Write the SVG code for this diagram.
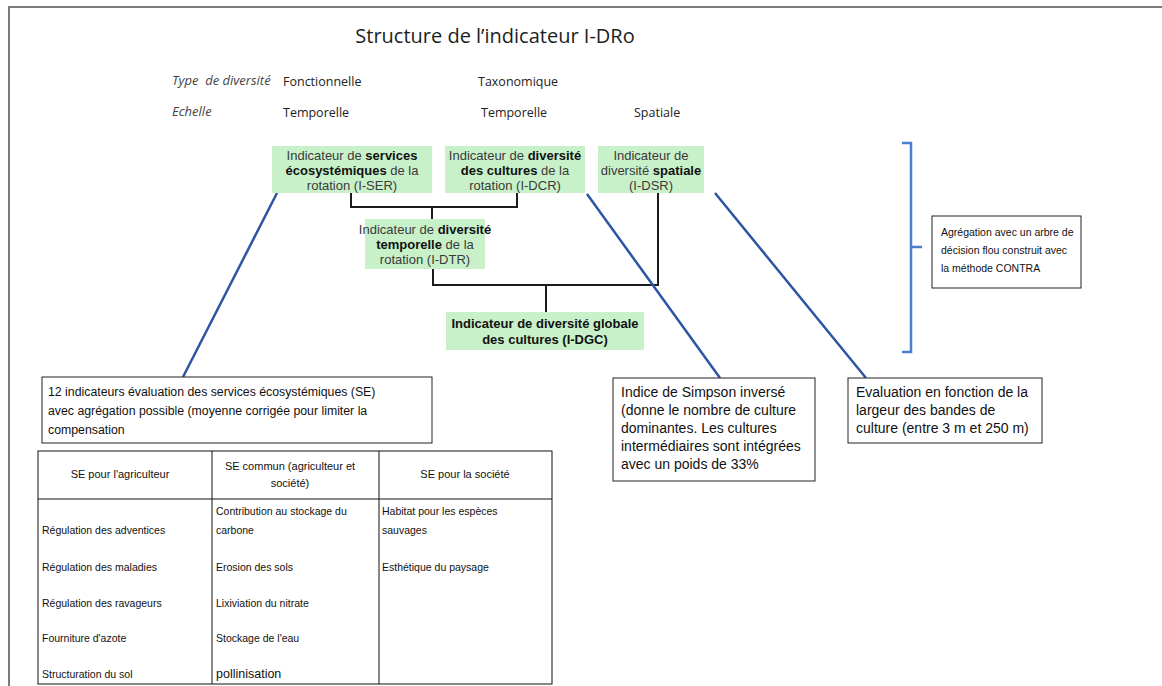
<svg xmlns="http://www.w3.org/2000/svg" width="1162" height="686" viewBox="0 0 1162 686">
<style>
.frame{fill:none;stroke:#7a7a7a;stroke-width:2}
.title{font-family:"Open Sans","Liberation Sans",sans-serif;font-size:20px;fill:#1e1e1e;text-anchor:middle}
.lab{font-family:"Open Sans","Liberation Sans",sans-serif;font-size:13px;font-style:italic;fill:#444}
.val{font-family:"Open Sans","Liberation Sans",sans-serif;font-size:12.5px;fill:#222}
.gbox{fill:#c9f1c9;stroke:none}
.gt{font-family:"Liberation Sans",Arial,sans-serif;font-size:13px;fill:#3a3a3a;text-anchor:middle}
.b{font-weight:bold;fill:#111}
.tree{fill:none;stroke:#1c1c1c;stroke-width:2}
.blue{fill:none;stroke:#2d55a3;stroke-width:2.5}
.brace{fill:none;stroke:#4a7ed0;stroke-width:2.5}
.box{fill:#fff;stroke:#222;stroke-width:1}
.bt{font-family:"Liberation Sans",Arial,sans-serif;font-size:12.3px;fill:#111}
.bt2{font-family:"Liberation Sans",Arial,sans-serif;font-size:14px;fill:#111}
.bt3{font-family:"Liberation Sans",Arial,sans-serif;font-size:10.5px;fill:#111}
.tt{font-family:"Liberation Sans",Arial,sans-serif;font-size:10.5px;fill:#111}
.ttc{font-family:"Liberation Sans",Arial,sans-serif;font-size:11px;fill:#111;text-anchor:middle}
.tl{fill:none;stroke:#111;stroke-width:1}
</style>
<path class="frame" d="M9,686 V7 H1162"/>
<text class="title" x="495" y="43">Structure de l’indicateur I-DRo</text>
<g id="legend">
<text class="lab" x="172" y="85" xml:space="preserve">Type  de diversité</text>
<text class="lab" x="172" y="116">Echelle</text>
<text class="val" x="283" y="86">Fonctionnelle</text>
<text class="val" x="478" y="86">Taxonomique</text>
<text class="val" x="283" y="117">Temporelle</text>
<text class="val" x="481" y="117">Temporelle</text>
<text class="val" x="634" y="117">Spatiale</text>
</g>
<g id="connectors">
<path class="tree" d="M351,193 V207 H517 V193 M432,207 V219 M433,269 V285 H658 V193 M546,285 V312"/>
<path class="blue" d="M277,193 L183,377 M587,194 L720,378 M715,193 L866,378"/>
<path class="brace" d="M902,143 H911 V352 H902 M911,247 H922"/>
</g>
<g id="n-iser">
<rect class="gbox" x="272" y="146" width="160" height="47"/>
<text class="gt" x="352" y="160">Indicateur de <tspan class="b">services</tspan></text>
<text class="gt" x="352" y="175"><tspan class="b">écosystémiques</tspan> de la</text>
<text class="gt" x="352" y="190">rotation (I-SER)</text>
</g>
<g id="n-idcr">
<rect class="gbox" x="445" y="146" width="140" height="47"/>
<text class="gt" x="515" y="160">Indicateur de <tspan class="b">diversité</tspan></text>
<text class="gt" x="515" y="175"><tspan class="b">des cultures</tspan> de la</text>
<text class="gt" x="515" y="190">rotation (I-DCR)</text>
</g>
<g id="n-idsr">
<rect class="gbox" x="598" y="146" width="106" height="47"/>
<text class="gt" x="651" y="160">Indicateur de</text>
<text class="gt" x="651" y="175">diversité <tspan class="b">spatiale</tspan></text>
<text class="gt" x="651" y="190">(I-DSR)</text>
</g>
<g id="n-idtr">
<rect class="gbox" x="365" y="219" width="120" height="50"/>
<text class="gt" x="425" y="234">Indicateur de <tspan class="b">diversité</tspan></text>
<text class="gt" x="425" y="249"><tspan class="b">temporelle</tspan> de la</text>
<text class="gt" x="425" y="264">rotation (I-DTR)</text>
</g>
<g id="n-idgc">
<rect class="gbox" x="446" y="312" width="198" height="38"/>
<text class="gt b" x="545" y="328">Indicateur de diversité globale</text>
<text class="gt b" x="545" y="344">des cultures (I-DGC)</text>
</g>
<g id="n-agreg">
<rect class="box" x="932" y="216" width="149" height="72"/>
<text class="bt3" x="941" y="236">Agrégation avec un arbre de</text>
<text class="bt3" x="941" y="254">décision flou construit avec</text>
<text class="bt3" x="941" y="272">la méthode CONTRA</text>
</g>
<g id="n-se">
<rect class="box" x="42" y="377" width="390" height="66"/>
<text class="bt" x="48" y="396">12 indicateurs évaluation des services écosystémiques (SE)</text>
<text class="bt" x="48" y="415">avec agrégation possible (moyenne corrigée pour limiter la</text>
<text class="bt" x="48" y="434">compensation</text>
</g>
<g id="n-simpson">
<rect class="box" x="613" y="378" width="202" height="103"/>
<text class="bt2" x="621" y="397">Indice de Simpson inversé</text>
<text class="bt2" x="621" y="415">(donne le nombre de culture</text>
<text class="bt2" x="621" y="433">dominantes. Les cultures</text>
<text class="bt2" x="621" y="451">intermédiaires sont intégrées</text>
<text class="bt2" x="621" y="469">avec un poids de 33%</text>
</g>
<g id="n-eval">
<rect class="box" x="848" y="378" width="194" height="65"/>
<text class="bt2" x="856" y="397">Evaluation en fonction de la</text>
<text class="bt2" x="856" y="415">largeur des bandes de</text>
<text class="bt2" x="856" y="433">culture (entre 3 m et 250 m)</text>
</g>
<g id="table">
<rect class="tl" x="38" y="451" width="514" height="233" fill="#fff"/>
<path class="tl" d="M38,499 H552 M212,451 V684 M379,451 V684"/>
<text class="ttc" x="120" y="478">SE pour l'agriculteur</text>
<text class="ttc" x="290" y="470">SE commun (agriculteur et</text>
<text class="ttc" x="290" y="487">société)</text>
<text class="ttc" x="465" y="478">SE pour la société</text>
<text class="tt" x="42" y="534">Régulation des adventices</text>
<text class="tt" x="42" y="571">Régulation des maladies</text>
<text class="tt" x="42" y="607">Régulation des ravageurs</text>
<text class="tt" x="42" y="642">Fourniture d'azote</text>
<text class="tt" x="42" y="678">Structuration du sol</text>
<text class="tt" x="216" y="515">Contribution au stockage du</text>
<text class="tt" x="216" y="534">carbone</text>
<text class="tt" x="216" y="571">Erosion des sols</text>
<text class="tt" x="216" y="607">Lixiviation du nitrate</text>
<text class="tt" x="216" y="642">Stockage de l'eau</text>
<text class="tt" x="216" y="678" style="font-size:12.5px">pollinisation</text>
<text class="tt" x="382" y="515">Habitat pour les espèces</text>
<text class="tt" x="382" y="534">sauvages</text>
<text class="tt" x="382" y="571">Esthétique du paysage</text>
</g>
</svg>
